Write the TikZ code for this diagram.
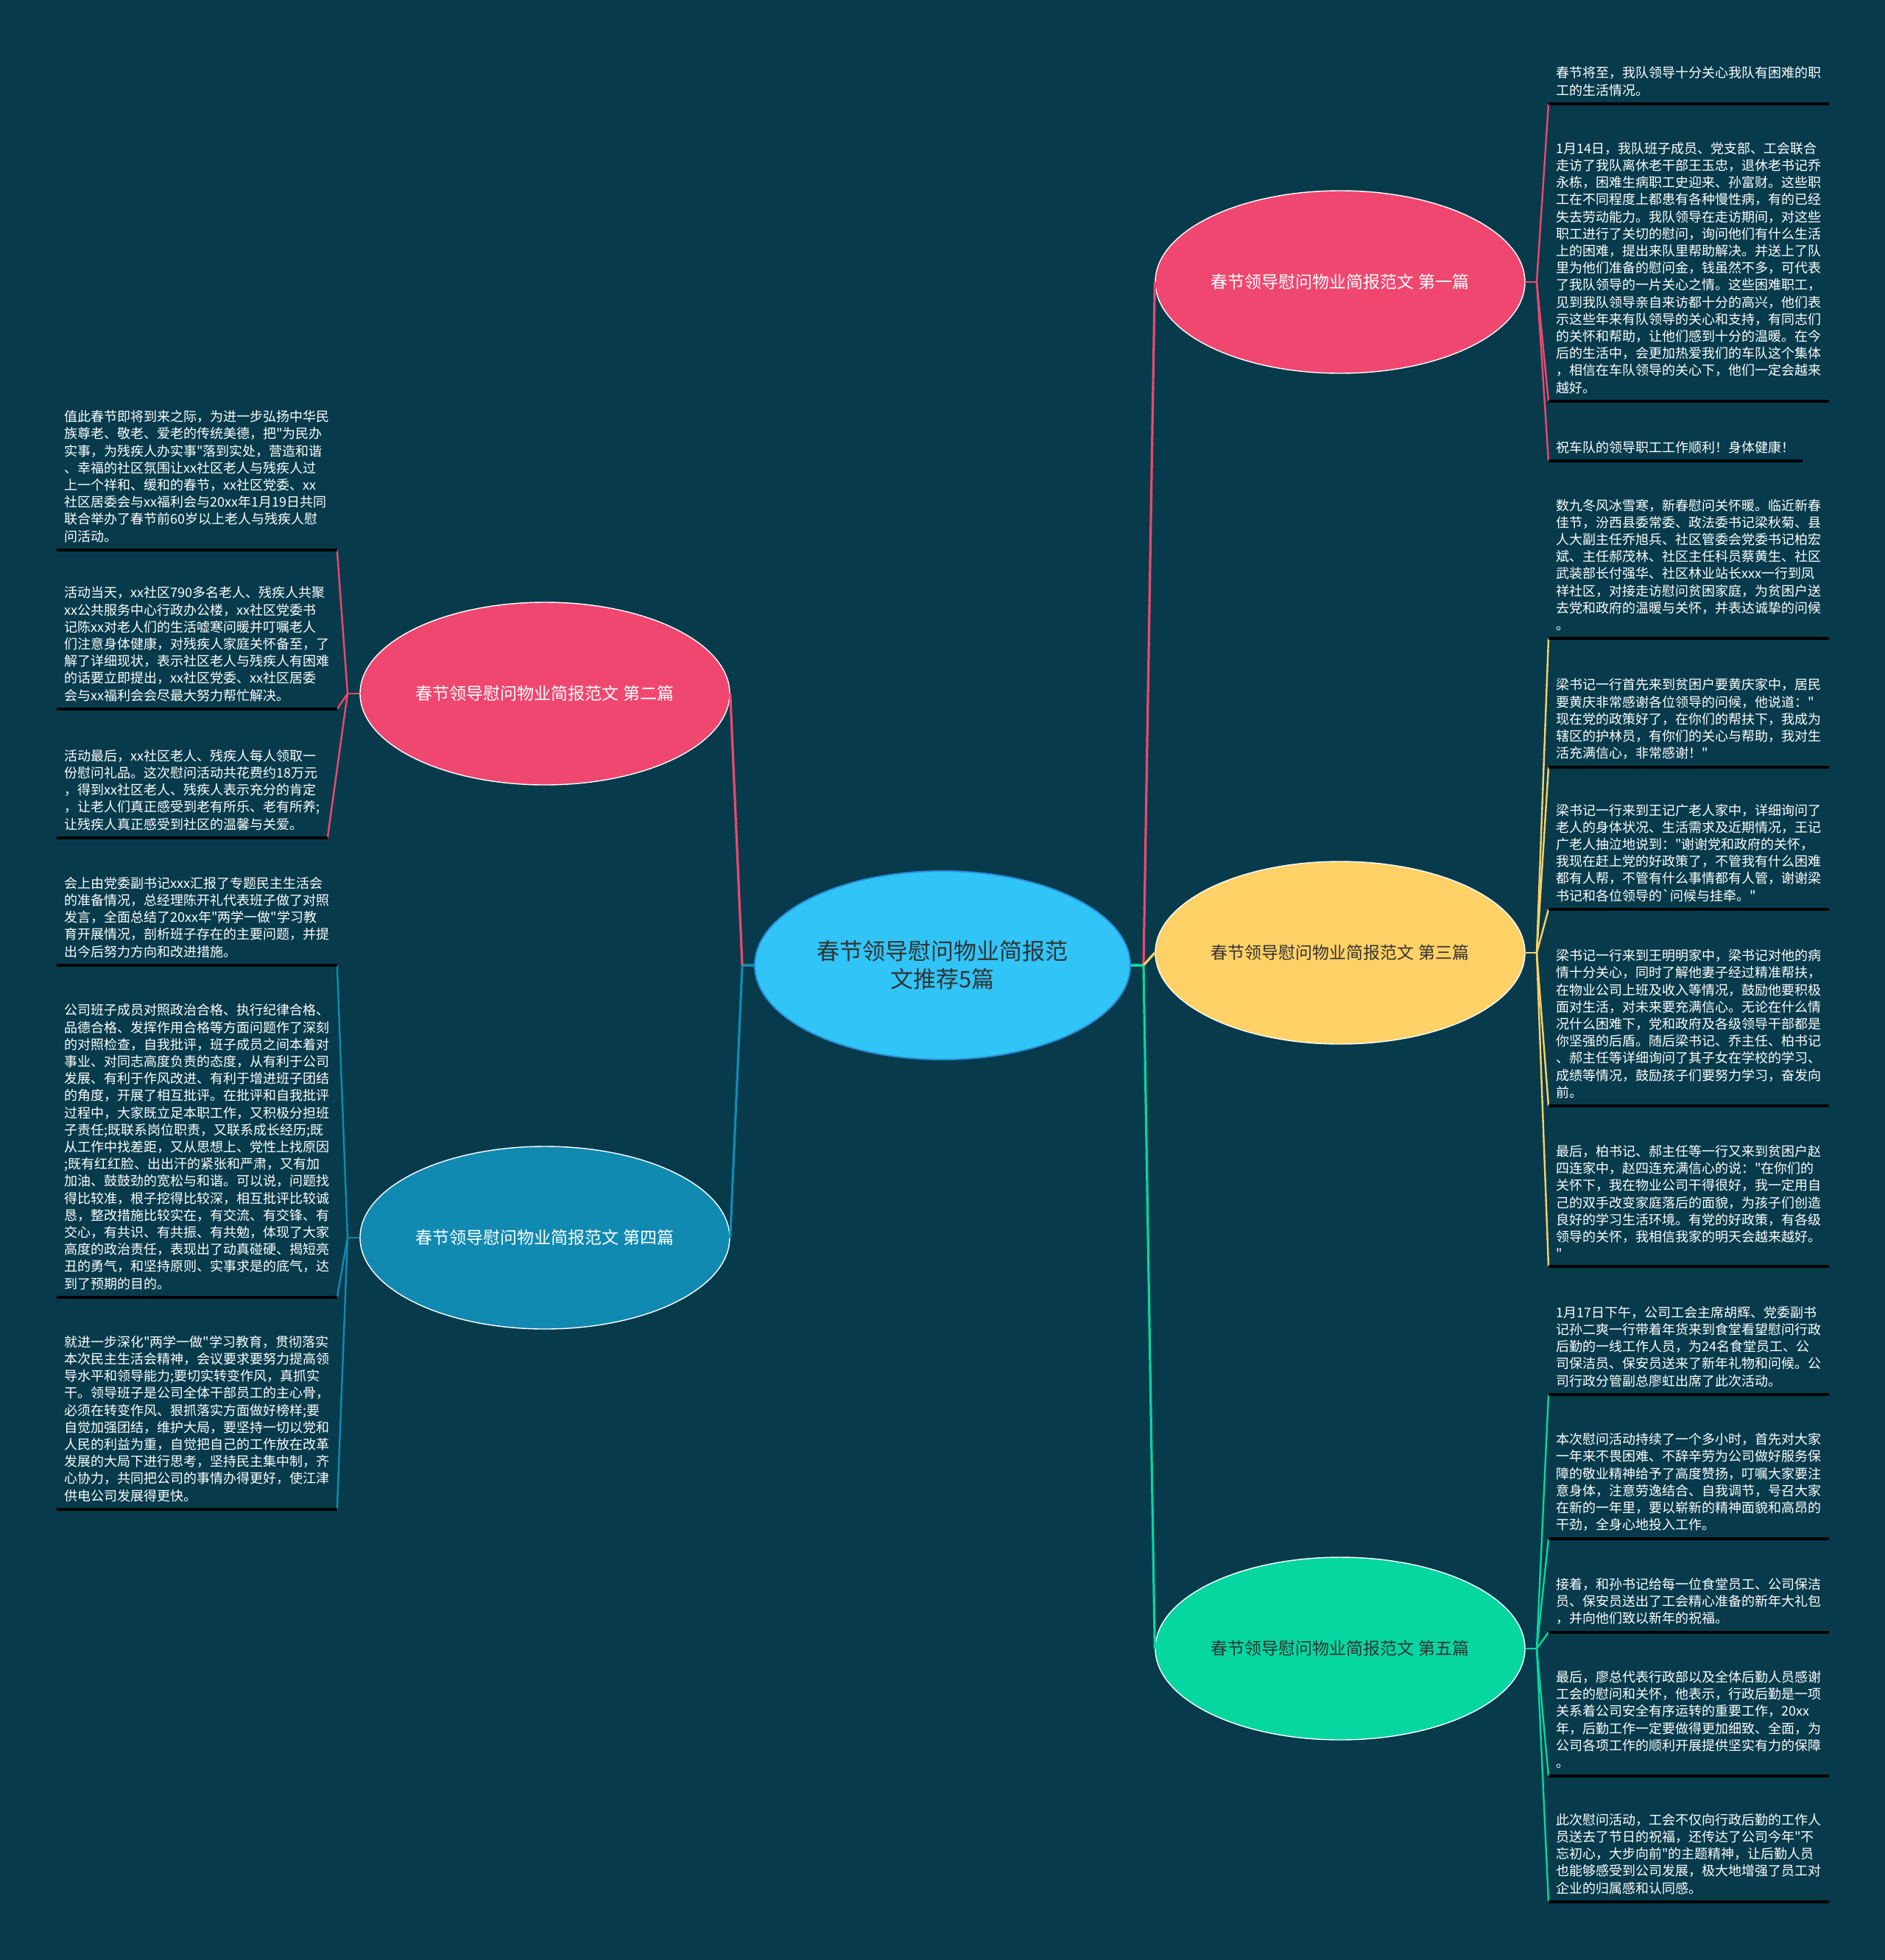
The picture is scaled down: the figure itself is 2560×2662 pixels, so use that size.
\documentclass[tikz,border=0pt]{standalone}
\usepackage{fontspec}
\setmainfont{Noto Sans CJK SC}[Ligatures=TeXOff]
\usetikzlibrary{shapes.geometric}
\definecolor{fundo}{HTML}{073B4C}
\definecolor{rosa}{HTML}{EF476F}
\definecolor{amarelo}{HTML}{FFD166}
\definecolor{verde}{HTML}{06D6A0}
\definecolor{azul}{HTML}{118AB2}
\definecolor{centro}{HTML}{30C4F7}
\definecolor{centroborda}{HTML}{2B8CD8}
\definecolor{escuro}{HTML}{333333}
\begin{document}
\begin{tikzpicture}[x=0.5pt, y=-0.5pt,
    ramo/.style={ellipse, draw=white, line width=0.7pt, minimum width=251pt, minimum height=124pt, inner sep=0pt, font=\fontsize{11.5}{14}\selectfont},
    folha/.style={anchor=south west, align=left, inner xsep=5pt, inner ysep=5pt, text=white, font=\fontsize{9}{11.6}\selectfont},
    tronco/.style={line width=1.6pt},
    fio/.style={line width=1.2pt},
    linha/.style={line width=2pt, black}]
    \fill[fundo] (0,0) rectangle (2560,2662);
    \useasboundingbox (0,0) rectangle (2560,2662);

    % Nós
    \node[ellipse, fill=centro, draw=centroborda, line width=1pt, minimum width=255pt, minimum height=128pt, align=center, text=escuro, font=\fontsize{15.5}{19}\selectfont] (0) at (1280,1311) {春节领导慰问物业简报范\\文推荐5篇};
    \node[ramo, fill=rosa, text=white] (1) at (1820,383) {春节领导慰问物业简报范文 第一篇};
    \node[ramo, fill=rosa, text=white] (2) at (740,942) {春节领导慰问物业简报范文 第二篇};
    \node[ramo, fill=amarelo, text=escuro] (3) at (1820,1294) {春节领导慰问物业简报范文 第三篇};
    \node[ramo, fill=azul, text=white] (4) at (740,1681) {春节领导慰问物业简报范文 第四篇};
    \node[ramo, fill=verde, text=escuro] (5) at (1820,2239) {春节领导慰问物业简报范文 第五篇};

    \coordinate (0r) at (1553,1311);
    \coordinate (0l) at (1008,1311);
    \coordinate (1j) at (2087,383);
    \coordinate (2j) at (472,942);
    \coordinate (3j) at (2087,1294);
    \coordinate (4j) at (472,1681);
    \coordinate (5j) at (2087,2239);

    % Folhas
    \node[folha] (11) at (2103,141) {春节将至，我队领导十分关心我队有困难的职\\工的生活情况。};
    \node[folha] (12) at (2103,545) {1月14日，我队班子成员、党支部、工会联合\\走访了我队离休老干部王玉忠，退休老书记乔\\永栋，困难生病职工史迎来、孙富财。这些职\\工在不同程度上都患有各种慢性病，有的已经\\失去劳动能力。我队领导在走访期间，对这些\\职工进行了关切的慰问，询问他们有什么生活\\上的困难，提出来队里帮助解决。并送上了队\\里为他们准备的慰问金，钱虽然不多，可代表\\了我队领导的一片关心之情。这些困难职工，\\见到我队领导亲自来访都十分的高兴，他们表\\示这些年来有队领导的关心和支持，有同志们\\的关怀和帮助，让他们感到十分的温暖。在今\\后的生活中，会更加热爱我们的车队这个集体\\，相信在车队领导的关心下，他们一定会越来\\越好。};
    \node[folha] (13) at (2103,626) {祝车队的领导职工工作顺利！身体健康！};

    \node[folha] (31) at (2103,867) {数九冬风冰雪寒，新春慰问关怀暖。临近新春\\佳节，汾西县委常委、政法委书记梁秋菊、县\\人大副主任乔旭兵、社区管委会党委书记柏宏\\斌、主任郝茂林、社区主任科员蔡黄生、社区\\武装部长付强华、社区林业站长xxx一行到凤\\祥社区，对接走访慰问贫困家庭，为贫困户送\\去党和政府的温暖与关怀，并表达诚挚的问候\\。};
    \node[folha] (32) at (2103,1042) {梁书记一行首先来到贫困户要黄庆家中，居民\\要黄庆非常感谢各位领导的问候，他说道："\\现在党的政策好了，在你们的帮扶下，我成为\\辖区的护林员，有你们的关心与帮助，我对生\\活充满信心，非常感谢！"};
    \node[folha] (33) at (2103,1235) {梁书记一行来到王记广老人家中，详细询问了\\老人的身体状况、生活需求及近期情况，王记\\广老人抽泣地说到："谢谢党和政府的关怀，\\我现在赶上党的好政策了，不管我有什么困难\\都有人帮，不管有什么事情都有人管，谢谢梁\\书记和各位领导的\textasciigrave 问候与挂牵。"};
    \node[folha] (34) at (2103,1502) {梁书记一行来到王明明家中，梁书记对他的病\\情十分关心，同时了解他妻子经过精准帮扶，\\在物业公司上班及收入等情况，鼓励他要积极\\面对生活，对未来要充满信心。无论在什么情\\况什么困难下，党和政府及各级领导干部都是\\你坚强的后盾。随后梁书记、乔主任、柏书记\\、郝主任等详细询问了其子女在学校的学习、\\成绩等情况，鼓励孩子们要努力学习，奋发向\\前。};
    \node[folha] (35) at (2103,1720) {最后，柏书记、郝主任等一行又来到贫困户赵\\四连家中，赵四连充满信心的说："在你们的\\关怀下，我在物业公司干得很好，我一定用自\\己的双手改变家庭落后的面貌，为孩子们创造\\良好的学习生活环境。有党的好政策，有各级\\领导的关怀，我相信我家的明天会越来越好。\\"};

    \node[folha] (51) at (2103,1894) {1月17日下午，公司工会主席胡辉、党委副书\\记孙二爽一行带着年货来到食堂看望慰问行政\\后勤的一线工作人员，为24名食堂员工、公\\司保洁员、保安员送来了新年礼物和问候。公\\司行政分管副总廖虹出席了此次活动。};
    \node[folha] (52) at (2103,2090) {本次慰问活动持续了一个多小时，首先对大家\\一年来不畏困难、不辞辛劳为公司做好服务保\\障的敬业精神给予了高度赞扬，叮嘱大家要注\\意身体，注意劳逸结合、自我调节，号召大家\\在新的一年里，要以崭新的精神面貌和高昂的\\干劲，全身心地投入工作。};
    \node[folha] (53) at (2103,2217) {接着，和孙书记给每一位食堂员工、公司保洁\\员、保安员送出了工会精心准备的新年大礼包\\，并向他们致以新年的祝福。};
    \node[folha] (54) at (2103,2412) {最后，廖总代表行政部以及全体后勤人员感谢\\工会的慰问和关怀，他表示，行政后勤是一项\\关系着公司安全有序运转的重要工作，20xx\\年，后勤工作一定要做得更加细致、全面，为\\公司各项工作的顺利开展提供坚实有力的保障\\。};
    \node[folha] (55) at (2103,2583) {此次慰问活动，工会不仅向行政后勤的工作人\\员送去了节日的祝福，还传达了公司今年"不\\忘初心，大步向前"的主题精神，让后勤人员\\也能够感受到公司发展，极大地增强了员工对\\企业的归属感和认同感。};

    \node[folha] (21) at (77,747) {值此春节即将到来之际，为进一步弘扬中华民\\族尊老、敬老、爱老的传统美德，把"为民办\\实事，为残疾人办实事"落到实处，营造和谐\\、幸福的社区氛围让xx社区老人与残疾人过\\上一个祥和、缓和的春节，xx社区党委、xx\\社区居委会与xx福利会与20xx年1月19日共同\\联合举办了春节前60岁以上老人与残疾人慰\\问活动。};
    \node[folha] (22) at (77,963) {活动当天，xx社区790多名老人、残疾人共聚\\xx公共服务中心行政办公楼，xx社区党委书\\记陈xx对老人们的生活嘘寒问暖并叮嘱老人\\们注意身体健康，对残疾人家庭关怀备至，了\\解了详细现状，表示社区老人与残疾人有困难\\的话要立即提出，xx社区党委、xx社区居委\\会与xx福利会会尽最大努力帮忙解决。};
    \node[folha] (23) at (77,1138) {活动最后，xx社区老人、残疾人每人领取一\\份慰问礼品。这次慰问活动共花费约18万元\\，得到xx社区老人、残疾人表示充分的肯定\\，让老人们真正感受到老有所乐、老有所养;\\让残疾人真正感受到社区的温馨与关爱。};

    \node[folha] (41) at (77,1311) {会上由党委副书记xxx汇报了专题民主生活会\\的准备情况，总经理陈开礼代表班子做了对照\\发言，全面总结了20xx年"两学一做"学习教\\育开展情况，剖析班子存在的主要问题，并提\\出今后努力方向和改进措施。};
    \node[folha] (42) at (77,1762) {公司班子成员对照政治合格、执行纪律合格、\\品德合格、发挥作用合格等方面问题作了深刻\\的对照检查，自我批评，班子成员之间本着对\\事业、对同志高度负责的态度，从有利于公司\\发展、有利于作风改进、有利于增进班子团结\\的角度，开展了相互批评。在批评和自我批评\\过程中，大家既立足本职工作，又积极分担班\\子责任;既联系岗位职责，又联系成长经历;既\\从工作中找差距，又从思想上、党性上找原因\\;既有红红脸、出出汗的紧张和严肃，又有加\\加油、鼓鼓劲的宽松与和谐。可以说，问题找\\得比较准，根子挖得比较深，相互批评比较诚\\恳，整改措施比较实在，有交流、有交锋、有\\交心，有共识、有共振、有共勉，体现了大家\\高度的政治责任，表现出了动真碰硬、揭短亮\\丑的勇气，和坚持原则、实事求是的底气，达\\到了预期的目的。};
    \node[folha] (43) at (77,2050) {就进一步深化"两学一做"学习教育，贯彻落实\\本次民主生活会精神，会议要求要努力提高领\\导水平和领导能力;要切实转变作风，真抓实\\干。领导班子是公司全体干部员工的主心骨，\\必须在转变作风、狠抓落实方面做好榜样;要\\自觉加强团结，维护大局，要坚持一切以党和\\人民的利益为重，自觉把自己的工作放在改革\\发展的大局下进行思考，坚持民主集中制，齐\\心协力，共同把公司的事情办得更好，使江津\\供电公司发展得更快。};

    % Arestas
    \draw[tronco, verde] (0.east) -- (0r);
    \draw[tronco, azul] (0.west) -- (0l);
    \draw[tronco, rosa] (0r) -- (1.west);
    \draw[tronco, amarelo] (0r) -- (3.west);
    \draw[tronco, verde] (0r) -- (5.west);
    \draw[tronco, rosa] (0l) -- (2.east);
    \draw[tronco, azul] (0l) -- (4.east);

    \draw[fio, rosa] (1.east) -- (1j);
    \draw[fio, rosa] (1j) -- (11.south west);
    \draw[fio, rosa] (1j) -- (12.south west);
    \draw[fio, rosa] (1j) -- (13.south west);
    \draw[fio, amarelo] (3.east) -- (3j);
    \draw[fio, amarelo] (3j) -- (31.south west);
    \draw[fio, amarelo] (3j) -- (32.south west);
    \draw[fio, amarelo] (3j) -- (33.south west);
    \draw[fio, amarelo] (3j) -- (34.south west);
    \draw[fio, amarelo] (3j) -- (35.south west);
    \draw[fio, verde] (5.east) -- (5j);
    \draw[fio, verde] (5j) -- (51.south west);
    \draw[fio, verde] (5j) -- (52.south west);
    \draw[fio, verde] (5j) -- (53.south west);
    \draw[fio, verde] (5j) -- (54.south west);
    \draw[fio, verde] (5j) -- (55.south west);
    \draw[fio, rosa] (2.west) -- (2j);
    \draw[fio, rosa] (2j) -- (21.south east);
    \draw[fio, rosa] (2j) -- (22.south east);
    \draw[fio, rosa] (2j) -- (23.south east);
    \draw[fio, azul] (4.west) -- (4j);
    \draw[fio, azul] (4j) -- (41.south east);
    \draw[fio, azul] (4j) -- (42.south east);
    \draw[fio, azul] (4j) -- (43.south east);

    % Sublinhados
    \draw[linha] (11.south west) -- (11.south east);
    \draw[linha] (12.south west) -- (12.south east);
    \draw[linha] (13.south west) -- (13.south east);
    \draw[linha] (31.south west) -- (31.south east);
    \draw[linha] (32.south west) -- (32.south east);
    \draw[linha] (33.south west) -- (33.south east);
    \draw[linha] (34.south west) -- (34.south east);
    \draw[linha] (35.south west) -- (35.south east);
    \draw[linha] (51.south west) -- (51.south east);
    \draw[linha] (52.south west) -- (52.south east);
    \draw[linha] (53.south west) -- (53.south east);
    \draw[linha] (54.south west) -- (54.south east);
    \draw[linha] (55.south west) -- (55.south east);
    \draw[linha] (21.south west) -- (21.south east);
    \draw[linha] (22.south west) -- (22.south east);
    \draw[linha] (23.south west) -- (23.south east);
    \draw[linha] (41.south west) -- (41.south east);
    \draw[linha] (42.south west) -- (42.south east);
    \draw[linha] (43.south west) -- (43.south east);
\end{tikzpicture}
\end{document}
